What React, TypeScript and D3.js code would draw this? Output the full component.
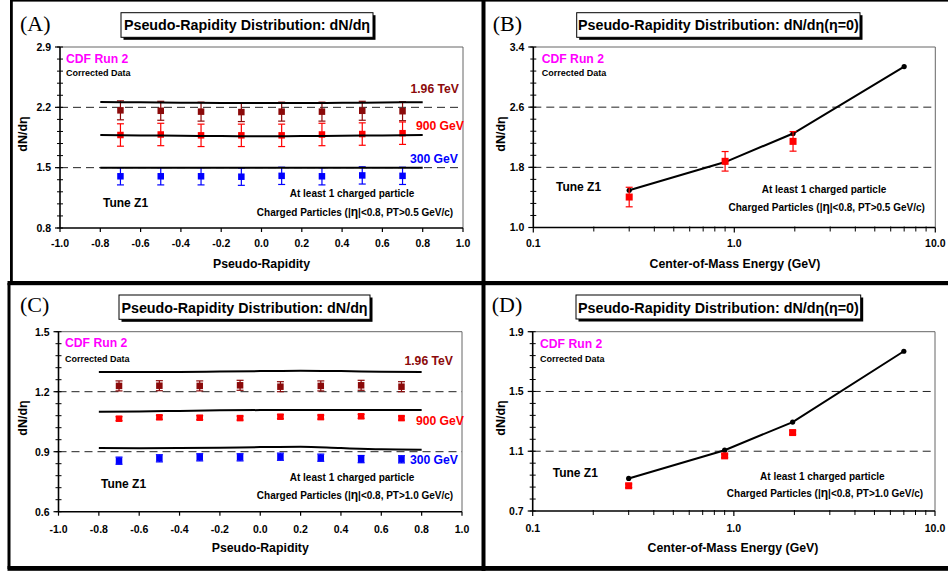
import React from 'react';
import * as d3 from 'd3';

const FONT = '"Liberation Sans", Arial, Helvetica, sans-serif';
const SERIF = '"Liberation Serif", "Times New Roman", serif';

// ---------- data ----------
const etaPoints = [-0.7, -0.5, -0.3, -0.1, 0.1, 0.3, 0.5, 0.7];
const etaTune = [-0.8, -0.6, -0.4, -0.2, 0.0, 0.2, 0.4, 0.6, 0.8];
const etaTicks = [-1.0, -0.8, -0.6, -0.4, -0.2, 0.0, 0.2, 0.4, 0.6, 0.8, 1.0];

// Panel A (PT > 0.5 GeV/c)
const a196Data = [2.165, 2.16, 2.15, 2.145, 2.15, 2.15, 2.16, 2.155];
const a196Err = [0.11, 0.11, 0.11, 0.11, 0.11, 0.11, 0.11, 0.11];
const a196Tune = [2.262, 2.258, 2.254, 2.25, 2.25, 2.25, 2.252, 2.256, 2.26];
const a900Data = [1.879, 1.885, 1.875, 1.875, 1.875, 1.885, 1.89, 1.9];
const a900Err = [0.13, 0.13, 0.13, 0.13, 0.13, 0.13, 0.13, 0.13];
const a900Tune = [1.878, 1.874, 1.87, 1.866, 1.864, 1.866, 1.87, 1.874, 1.878];
const a300Data = [1.4, 1.4, 1.4, 1.395, 1.405, 1.4, 1.41, 1.405];
const a300Err = [0.1, 0.1, 0.1, 0.1, 0.1, 0.1, 0.1, 0.1];
const a300Tune = [1.5, 1.5, 1.5, 1.5, 1.5, 1.5, 1.5, 1.5, 1.5];
const aYTicks = [0.8, 1.5, 2.2, 2.9];

// Panel C (PT > 1.0 GeV/c)
const c196Data = [1.229, 1.23, 1.229, 1.232, 1.225, 1.229, 1.232, 1.225];
const c196Err = [0.025, 0.025, 0.025, 0.025, 0.025, 0.025, 0.025, 0.025];
const c196Tune = [1.298, 1.298, 1.299, 1.301, 1.303, 1.305, 1.303, 1.3, 1.298];
const c900Data = [1.065, 1.072, 1.07, 1.068, 1.075, 1.073, 1.077, 1.068];
const c900Err = [0.01, 0.01, 0.01, 0.01, 0.01, 0.01, 0.01, 0.01];
const c900Tune = [1.1, 1.101, 1.104, 1.107, 1.108, 1.108, 1.108, 1.108, 1.108];
const c300Data = [0.855, 0.867, 0.872, 0.872, 0.875, 0.87, 0.863, 0.862];
const c300Err = [0.018, 0.018, 0.018, 0.018, 0.018, 0.018, 0.018, 0.018];
const c300Tune = [0.918, 0.917, 0.918, 0.92, 0.923, 0.925, 0.918, 0.912, 0.91];
const cYTicks = [0.6, 0.9, 1.2, 1.5];

// Panels B & D (energy dependence at eta = 0)
const energies = [0.3, 0.9, 1.96];
const tuneEnergies = [0.3, 0.9, 1.96, 7.0];
const logTicks = [0.1, 1.0, 10.0];
const bData = [1.405, 1.88, 2.145];
const bErr = [0.13, 0.13, 0.13];
const bTune = [1.495, 1.87, 2.25, 3.14];
const bYTicks = [1.0, 1.8, 2.6, 3.4];
const dData = [0.869, 1.069, 1.225];
const dErr = [0.012, 0.012, 0.012];
const dTune = [0.918, 1.107, 1.295, 1.769];
const dYTicks = [0.7, 1.1, 1.5, 1.9];

const DARKRED = '#8b0a0a';
const RED = '#ff0000';
const BLUE = '#0000ff';
const MAGENTA = '#ff00ff';

// ---------- helpers ----------
type Box = { l: number; r: number; t: number; b: number };

function TitleBox({ x0, y0, x1, y1, base, text }: any) {
  return (
    <g>
      <rect x={x0 + 2.5} y={y0 + 2.5} width={x1 - x0} height={y1 - y0} fill="#000" />
      <rect x={x0} y={y0} width={x1 - x0} height={y1 - y0} fill="#fff" stroke="#000" strokeWidth={1} />
      <text x={(x0 + x1) / 2} y={base} textAnchor="middle" fontSize={14.3} fontWeight="bold" fill="#000">{text}</text>
    </g>
  );
}

function YAxis({ box, y, ticks, minorStep }: any) {
  const [d0, d1] = y.domain();
  const minors = d3.range(d0, d1 + 1e-9, minorStep);
  return (
    <g>
      {ticks.slice(1, -1).map((v: number) => (
        <line key={'g' + v} x1={box.l} x2={box.r} y1={y(v)} y2={y(v)} stroke="#222" strokeWidth={1} strokeDasharray="8,5" />
      ))}
      <line x1={box.l} x2={box.r} y1={box.t} y2={box.t} stroke="#666" strokeWidth={1} />
      <line x1={box.r} x2={box.r} y1={box.t} y2={box.b} stroke="#666" strokeWidth={1} />
      {minors.map((v: number, i: number) => (
        <line key={'m' + i} x1={box.l - 3} x2={box.l + 3} y1={y(v)} y2={y(v)} stroke="#000" strokeWidth={1} />
      ))}
      {ticks.map((v: number) => (
        <g key={'t' + v}>
          <line x1={box.l - 5} x2={box.l} y1={y(v)} y2={y(v)} stroke="#000" strokeWidth={1.2} />
          <text x={box.l - 9} y={y(v) + 3.8} textAnchor="end" fontSize={10.5} fontWeight="bold">{v.toFixed(1)}</text>
        </g>
      ))}
      <line x1={box.l} x2={box.l} y1={box.t} y2={box.b} stroke="#000" strokeWidth={1.6} />
    </g>
  );
}

function YTitle({ x, cy }: any) {
  return (
    <text transform={`translate(${x},${cy}) rotate(-90)`} textAnchor="middle" fontSize={12.5} fontWeight="bold">dN/dη</text>
  );
}

function ErrSquares({ xs, vals, errs, x, y, color, size }: any) {
  return (
    <g>
      {vals.map((v: number, i: number) => {
        const cx = x(xs[i]);
        const y0 = y(v - errs[i]);
        const y1 = y(v + errs[i]);
        return (
          <g key={i}>
            <line x1={cx} x2={cx} y1={y0} y2={y1} stroke={color} strokeWidth={1.2} />
            <line x1={cx - 3.5} x2={cx + 3.5} y1={y0} y2={y0} stroke={color} strokeWidth={1.2} />
            <line x1={cx - 3.5} x2={cx + 3.5} y1={y1} y2={y1} stroke={color} strokeWidth={1.2} />
            <rect x={cx - size / 2} y={y(v) - size / 2} width={size} height={size} fill={color} />
          </g>
        );
      })}
    </g>
  );
}

function EtaPanel({ cfg }: any) {
  const box: Box = cfg.box;
  const x = d3.scaleLinear().domain([-1, 1]).range([box.l, box.r]);
  const y = d3.scaleLinear().domain([cfg.yTicks[0], cfg.yTicks[cfg.yTicks.length - 1]]).range([box.b, box.t]);
  const line = d3.line<number>().x((_, i) => x(etaTune[i])).y((d) => y(d)).curve(d3.curveMonotoneX);
  return (
    <g>
      <text x={cfg.tag[0]} y={cfg.tag[1]} fontFamily={SERIF} fontSize={22}>{cfg.tagText}</text>
      <TitleBox {...cfg.title} text="Pseudo-Rapidity Distribution: dN/dη" />
      <YAxis box={box} y={y} ticks={cfg.yTicks} minorStep={cfg.minorStep} />
      <line x1={box.l} x2={box.r} y1={box.b} y2={box.b} stroke="#000" strokeWidth={1.6} />
      {etaTicks.map((v) => (
        <g key={v}>
          <line x1={x(v)} x2={x(v)} y1={box.b} y2={box.b + 4} stroke="#000" strokeWidth={1.2} />
          <text x={x(v)} y={cfg.xLabBase} textAnchor="middle" fontSize={10.5} fontWeight="bold">{v.toFixed(1)}</text>
        </g>
      ))}
      <text x={(box.l + box.r) / 2} y={cfg.xTitleBase} textAnchor="middle" fontSize={12.3} fontWeight="bold">Pseudo-Rapidity</text>
      <YTitle x={27} cy={cfg.yTitleCy} />
      <text x={cfg.cdf[0]} y={cfg.cdf[1]} fontSize={12.2} fontWeight="bold" fill={MAGENTA}>CDF Run 2</text>
      <text x={cfg.cdf[0]} y={cfg.cdf[2]} fontSize={9} fontWeight="bold">Corrected Data</text>
      <text x={cfg.tune[0]} y={cfg.tune[1]} fontSize={12} fontWeight="bold">Tune Z1</text>
      <text x={cfg.info[0]} y={cfg.info[1]} textAnchor="middle" fontSize={10} fontWeight="bold">At least 1 charged particle</text>
      <text x={cfg.info[2]} y={cfg.info[3]} textAnchor="middle" fontSize={10} fontWeight="bold">
        Charged Particles (|<tspan fontSize={12}>η</tspan>|&lt;0.8, PT&gt;{cfg.pt} GeV/c)
      </text>
      {cfg.series.map((s: any, i: number) => (
        <g key={i}>
          <ErrSquares xs={etaPoints} vals={s.data} errs={s.err} x={x} y={y} color={s.color} size={6.5} />
          <path d={line(s.tune) || ''} fill="none" stroke="#000" strokeWidth={2} />
          <text x={s.lab[0]} y={s.lab[1]} textAnchor="end" fontSize={12.2} fontWeight="bold" fill={s.color}>{s.name}</text>
        </g>
      ))}
    </g>
  );
}

function EnergyPanel({ cfg }: any) {
  const box: Box = cfg.box;
  const x = d3.scaleLog().domain([0.1, 10]).range([box.l, box.r]);
  const y = d3.scaleLinear().domain([cfg.yTicks[0], cfg.yTicks[cfg.yTicks.length - 1]]).range([box.b, box.t]);
  const line = d3.line<number>().x((_, i) => x(tuneEnergies[i])).y((d) => y(d)).curve(d3.curveLinear);
  const minors: number[] = [];
  [0.1, 1].forEach((dec) => [2, 3, 4, 5, 6, 7, 8, 9].forEach((m) => minors.push(dec * m)));
  return (
    <g>
      <text x={cfg.tag[0]} y={cfg.tag[1]} fontFamily={SERIF} fontSize={22}>{cfg.tagText}</text>
      <TitleBox {...cfg.title} text="Pseudo-Rapidity Distribution: dN/dη(η=0)" />
      <YAxis box={box} y={y} ticks={cfg.yTicks} minorStep={cfg.minorStep} />
      <line x1={box.l} x2={box.r} y1={box.b} y2={box.b} stroke="#000" strokeWidth={1.6} />
      {minors.map((v, i) => (
        <line key={'m' + i} x1={x(v)} x2={x(v)} y1={box.b - 1} y2={box.b + 4} stroke="#000" strokeWidth={1} />
      ))}
      {logTicks.map((v) => (
        <g key={v}>
          <line x1={x(v)} x2={x(v)} y1={box.b} y2={box.b + 5} stroke="#000" strokeWidth={1.2} />
          <text x={x(v)} y={cfg.xLabBase} textAnchor="middle" fontSize={10.5} fontWeight="bold">{v.toFixed(1)}</text>
        </g>
      ))}
      <text x={cfg.xTitleX} y={cfg.xTitleBase} textAnchor="middle" fontSize={12.3} fontWeight="bold">Center-of-Mass Energy (GeV)</text>
      <YTitle x={505} cy={cfg.yTitleCy} />
      <text x={cfg.cdf[0]} y={cfg.cdf[1]} fontSize={12.2} fontWeight="bold" fill={MAGENTA}>CDF Run 2</text>
      <text x={cfg.cdf[0]} y={cfg.cdf[2]} fontSize={9} fontWeight="bold">Corrected Data</text>
      <text x={cfg.tune[0]} y={cfg.tune[1]} fontSize={12} fontWeight="bold">Tune Z1</text>
      <text x={cfg.info[0]} y={cfg.info[1]} textAnchor="middle" fontSize={10} fontWeight="bold">At least 1 charged particle</text>
      <text x={cfg.info[2]} y={cfg.info[3]} textAnchor="middle" fontSize={10} fontWeight="bold">
        Charged Particles (|<tspan fontSize={12}>η</tspan>|&lt;0.8, PT&gt;{cfg.pt} GeV/c)
      </text>
      <path d={line(cfg.tuneVals) || ''} fill="none" stroke="#000" strokeWidth={2} />
      {cfg.tuneVals.map((v: number, i: number) => (
        <circle key={i} cx={x(tuneEnergies[i])} cy={y(v)} r={2.6} fill="#000" />
      ))}
      <ErrSquares xs={energies} vals={cfg.data} errs={cfg.err} x={x} y={y} color={RED} size={7} />
    </g>
  );
}

const panelA = {
  tagText: '(A)', tag: [20, 30.7],
  title: { x0: 121, y0: 12.7, x1: 373, y1: 37.3, base: 29.5 },
  box: { l: 60, r: 463, t: 47, b: 228 },
  yTicks: aYTicks, minorStep: 0.14,
  xLabBase: 247, xTitleBase: 268, yTitleCy: 134,
  cdf: [66, 63, 76], tune: [103, 207], info: [352, 196.7, 355, 216], pt: '0.5',
  series: [
    { name: '1.96 TeV', color: DARKRED, data: a196Data, err: a196Err, tune: a196Tune, lab: [459, 93] },
    { name: '900 GeV', color: RED, data: a900Data, err: a900Err, tune: a900Tune, lab: [464, 130] },
    { name: '300 GeV', color: BLUE, data: a300Data, err: a300Err, tune: a300Tune, lab: [458, 163] },
  ],
};

const panelC = {
  tagText: '(C)', tag: [20, 311.7],
  title: { x0: 119, y0: 295, x1: 370, y1: 319.3, base: 313 },
  box: { l: 58.5, r: 462, t: 331.7, b: 511.7 },
  yTicks: cYTicks, minorStep: 0.06,
  xLabBase: 532.7, xTitleBase: 551.7, yTitleCy: 418,
  cdf: [65, 346.7, 361.7], tune: [101, 488.3], info: [352, 481, 355, 499.3], pt: '1.0',
  series: [
    { name: '1.96 TeV', color: DARKRED, data: c196Data, err: c196Err, tune: c196Tune, lab: [453, 365] },
    { name: '900 GeV', color: RED, data: c900Data, err: c900Err, tune: c900Tune, lab: [464, 425] },
    { name: '300 GeV', color: BLUE, data: c300Data, err: c300Err, tune: c300Tune, lab: [458, 464] },
  ],
};

const panelB = {
  tagText: '(B)', tag: [492.7, 30.7],
  title: { x0: 576.7, y0: 12.7, x1: 860, y1: 37.3, base: 29.5 },
  box: { l: 533.3, r: 935.3, t: 47, b: 227.5 },
  yTicks: bYTicks, minorStep: 0.16,
  xLabBase: 247, xTitleBase: 268, xTitleX: 735, yTitleCy: 134,
  cdf: [541.7, 63, 76], tune: [556, 191], info: [824, 193, 826.7, 211], pt: '0.5',
  tuneVals: bTune, data: bData, err: bErr,
};

const panelD = {
  tagText: '(D)', tag: [491.7, 311.7],
  title: { x0: 576, y0: 295, x1: 860.7, y1: 319, base: 313 },
  box: { l: 532.7, r: 935, t: 331.7, b: 511 },
  yTicks: dYTicks, minorStep: 0.08,
  xLabBase: 531.7, xTitleBase: 551.7, xTitleX: 733, yTitleCy: 418,
  cdf: [540, 348.3, 361.7], tune: [552.7, 477.3], info: [822.3, 480, 825, 497.3], pt: '1.0',
  tuneVals: dTune, data: dData, err: dErr,
};

export default function App() {
  return (
    <svg width={948} height={571} style={{ position: 'absolute', left: 0, top: 0, background: '#fff' }} fontFamily={FONT}>
      <rect x={0} y={0} width={948} height={571} fill="#fff" />
      <EtaPanel cfg={panelA} />
      <EnergyPanel cfg={panelB} />
      <EtaPanel cfg={panelC} />
      <EnergyPanel cfg={panelD} />
      {/* panel frames */}
      <rect x={10} y={0} width={938} height={1.6} fill="#000" />
      <rect x={10} y={0} width={2.8} height={284} fill="#000" />
      <rect x={481.5} y={0} width={4} height={571} fill="#000" />
      <rect x={7.5} y={281} width={940.5} height={4.2} fill="#000" />
      <rect x={7.5} y={283} width={3} height={286} fill="#000" />
      <rect x={7.5} y={566} width={940.5} height={4.8} fill="#000" />
    </svg>
  );
}
